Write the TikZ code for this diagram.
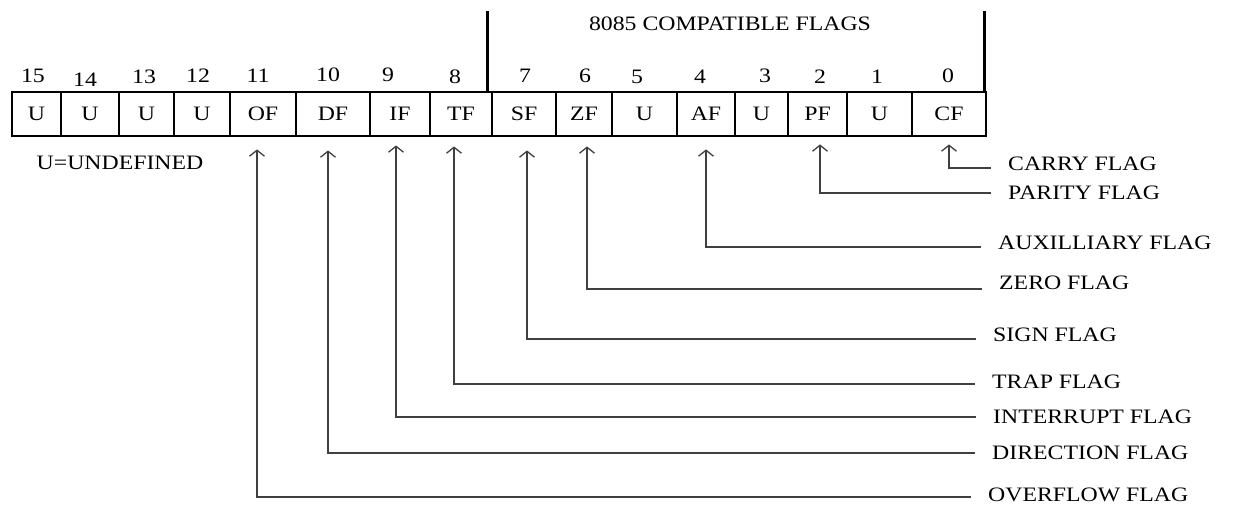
\documentclass[tikz,border=0pt]{standalone}
\usepackage{fontspec}
\setmainfont{Liberation Serif}[FakeStretch=1.16]
\usetikzlibrary{arrows.meta}
\begin{document}
\begin{tikzpicture}[x=1pt,y=-1pt,
  txt/.style={inner sep=0pt,font=\fontsize{20.5}{23}\selectfont},
  cell/.style={txt,draw,line width=2.8pt,minimum height=44pt},
  lbl/.style={txt,anchor=west},
  conn/.style={line width=1.3pt,draw=black!75},
  arr/.style={conn,-{Straight Barb[length=6pt,width=15pt]}},
  divline/.style={line width=2.6pt}]
\useasboundingbox (0,0) rectangle (1234,504);
% register cells
\foreach \n/\c/\w/\t in {c15/36.5/49/U,c14/90/58/U,c13/146.5/55/U,c12/202/56/U,
  c11/263/66/OF,c10/333/74/DF,c9/400/60/IF,c8/461/62/TF,c7/524/64/SF,c6/584/56/ZF,
  c5/644.5/65/U,c4/706/58/AF,c3/761.5/53/U,c2/817.5/59/PF,c1/879.5/65/U,c0/949/74/CF}
  \node[cell,minimum width=\w pt] (\n) at (\c,114) {\t};
% bit numbers
\foreach \n/\x/\y in {15/33/76,14/85/80,13/144/77,12/198/76,11/258/76,10/328/75,
  9/388/75,8/455/77,7/525/76,6/585/76,5/637/77,4/700/77,3/765/76,2/820/77,
  1/877/77,0/948/76}
  \node[txt] (b\n) at (\x,\y) {\n};
% 8085 compatible region
\draw[divline] ([xshift=-3pt]c7.north west) -- ++(0,-80) coordinate (t1);
\draw[divline] ([xshift=-3pt]c0.north east) -- ++(0,-80) coordinate (t2);
\node[txt] (title) at (730,24) {8085 COMPATIBLE FLAGS};
\node[txt] (undef) at (120,163) {U=UNDEFINED};
% flag labels
\node[lbl] (carry) at (1008,164) {CARRY FLAG};
\node[lbl] (parity) at (1008,193) {PARITY FLAG};
\node[lbl] (aux) at (998,243) {AUXILLIARY FLAG};
\node[lbl] (zero) at (999,283) {ZERO FLAG};
\node[lbl] (sign) at (993,335) {SIGN FLAG};
\node[lbl] (trap) at (992,382) {TRAP FLAG};
\node[lbl] (intr) at (993,417) {INTERRUPT FLAG};
\node[lbl] (dir) at (992,453) {DIRECTION FLAG};
\node[lbl] (over) at (988,495) {OVERFLOW FLAG};
% connectors
\foreach \l/\c/\dx/\dy/\ys in {carry/c0/0/-7/-4,parity/c2/2.5/-7/0,aux/c4/0/-12/-4,
  zero/c6/3/-9/-6,sign/c7/3/-13/-4,trap/c8/-7/-9/-2,intr/c9/-4/-8/0,
  dir/c10/-5/-13/0,over/c11/-6/-12/-2}
  \draw[arr] ([xshift=-17pt,yshift=\ys pt]\l.west) -| ([xshift=\dx pt,yshift=\dy pt]\c.south);
\end{tikzpicture}
\end{document}
